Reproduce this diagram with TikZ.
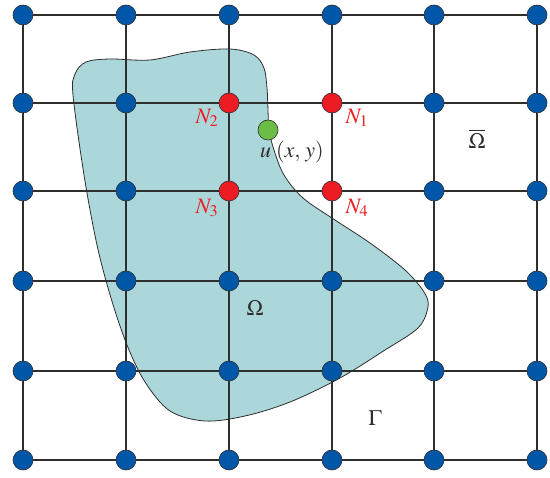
\documentclass[tikz,border=0pt]{standalone}
\usepackage{mathptmx}
\definecolor{blobfill}{HTML}{ABD7DA}
\definecolor{nodeblue}{HTML}{0057A8}
\definecolor{nodered}{HTML}{ED1C24}
\definecolor{nodegreen}{HTML}{6CBD45}
\definecolor{ink}{HTML}{2E2E2E}
\tikzset{
 gridnode/.style={circle, draw=ink, line width=0.6pt, fill=nodeblue, minimum size=20pt, inner sep=0pt},
 rednode/.style={gridnode, fill=nodered},
 greennode/.style={gridnode, fill=nodegreen},
 gridline/.style={draw=ink, line width=1.2pt},
 lab/.style={font=\fontsize{22}{26}\selectfont, text=ink, inner sep=0pt},
 redlab/.style={lab, text=nodered},
 blob/.style={fill=blobfill, draw=ink, line width=0.8pt},
}
\begin{document}
\begin{tikzpicture}[x=1pt,y=-1pt]
\useasboundingbox (0,0) rectangle (550,478);
\path[blob] plot[smooth cycle, tension=0.55] coordinates {
 (73,95) (75,74) (86,62) (110,59) (150,60) (190,52) (230,49) (254,55) (264,68)
 (267,88) (268,110) (269,130) (274,150) (284,175) (303,198) (335,220) (370,243)
 (405,270) (424,292) (428,307) (418,328) (385,350) (340,378) (290,402) (245,416)
 (205,421) (170,411) (145,382) (127,345) (111,298) (97,245) (84,175)};
\foreach \i/\x in {1/23,2/126,3/229,4/332,5/434,6/537}
 \foreach \j/\y in {1/15,2/103,3/191,4/281,5/371,6/460} {
  \def\sty{gridnode}
  \ifnum\i>2 \ifnum\i<5 \ifnum\j>1 \ifnum\j<4 \def\sty{rednode}\fi\fi\fi\fi
  \node[\sty] (n-\i-\j) at (\x,\y) {};
 }
\foreach \i in {1,...,5}
 \foreach \j in {1,...,6} {
  \pgfmathtruncatemacro\k{\i+1}
  \draw[gridline] (n-\i-\j) -- (n-\k-\j);
  \draw[gridline] (n-\j-\i) -- (n-\j-\k);
 }
\node[greennode] (u) at (268,130) {};
\node[redlab] (l2) at (207,118) {$N_2$};
\node[redlab] (l1) at (357,118) {$N_1$};
\node[redlab] (l3) at (207,208) {$N_3$};
\node[redlab] (l4) at (357,208) {$N_4$};
\node[lab] (lu) at (292,152) {$u\;(x,\,y)$};
\node[lab] (om) at (255,308) {$\Omega$};
\node[lab] (omb) at (477,139) {$\overline{\Omega}$};
\node[lab] (ga) at (375,418) {$\Gamma$};
\end{tikzpicture}
\end{document}
